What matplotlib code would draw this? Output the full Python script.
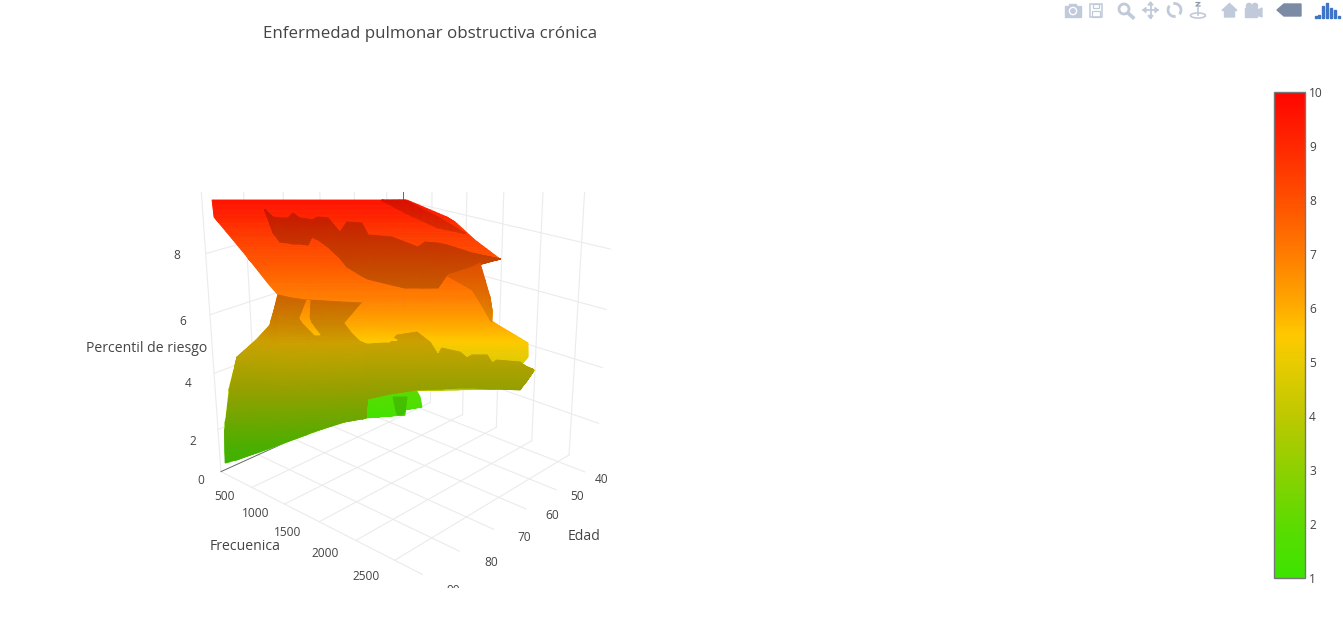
import numpy as np
import matplotlib
matplotlib.use('Agg')
import matplotlib.pyplot as plt
from matplotlib.colors import LinearSegmentedColormap, Normalize
from matplotlib.transforms import Bbox
from matplotlib.cm import ScalarMappable
from matplotlib.patches import Rectangle, Polygon, Circle, Arc

plt.rcParams['font.family']=['Open Sans','DejaVu Sans']

W,H=1343,635

# surface pieces: two edges each, [edge a, edge b]
base_edad=[[87.5,87.3,86.8,86.1,85.8,85.8,85.8,85.7,85.6,85.3,85.6,85.9,86.1,86.2,86.9,88.1,90.4,90.7,91.0,91.2,91.9,91.8,92.4,92.7,93.4,94.0,94.4],[62.9,57.7,56.6,55.4,54.1,54.0,57.2,58.3,58.8,59.2,59.0,58.5,58.4,57.3,54.7,52.9,53.0,53.8,52.2,53.9,54.0,73.9,74.0,77.7,83.8,89.4,94.3]]
base_frec=[[-10,-10,15,185,377,389,434,538,642,766,768,733,691,678,597,525,413,398,393,387,353,345,307,305,337,363,394],[1385,1668,1724,1927,2174,2186,2056,2092,2155,2247,2276,2285,2260,2314,2424,2517,2529,2490,2590,2498,2497,1360,1347,1153,880,624,398]]
base_z=[[9.6,9.06,8.9,8.41,7.95,7.91,7.83,7.58,7.33,7.03,6.98,6.55,6.2,6.03,5.67,5.4,4.95,4.72,4.51,4.43,3.89,3.81,2.87,2.71,2.26,1.83,1.5],[9.6,9.06,8.9,8.41,7.95,7.91,7.83,7.58,7.33,7.03,6.98,6.55,6.2,6.03,5.67,5.4,4.95,4.72,4.51,4.43,3.89,3.81,2.87,2.71,2.26,1.83,1.5]]
green_edad=[[56.5,56.3,57.7,58.3,59.1,59.8],[49.1,48.4,49.5,52.6,53.5,59.6]]
green_frec=[[463,453,518,549,591,621],[885,901,980,870,912,630]]
green_z=[[2.0,1.75,1.5,1.45,1.35,1.3],[2.0,1.75,1.5,1.45,1.35,1.3]]
d5_edad=[[51.9,54.6,55.0],[49.8,53.3,54.4]]
d5_frec=[[654,831,877],[770,905,909]]
d5_z=[[1.7,1.45,1.4],[1.7,1.45,1.4]]
d1_edad=[[93.0,91.7,90.4,87.7,86.2,85.3,83.8,82.2,81.7,77.3,75.0,74.0,73.6,73.5,70.6,69.7,67.3,65.4,64.5,64.0,61.7,60.9,60.1,58.2,57.6,57.0,54.1,53.2,52.5],[94.5,93.8,92.8,90.0,87.9,86.7,84.7,82.6,82.0,76.9,74.5,74.4,74.0,73.9,70.9,70.1,67.4,65.8,64.8,64.3,61.9,61.0,60.3,58.4,57.8,57.1,54.1,53.4,52.5]]
d1_frec=[[320,362,413,548,678,766,875,983,1011,1255,1370,1322,1344,1351,1518,1571,1722,1806,1871,1898,2031,2087,2118,2227,2269,2305,2476,2527,2575],[387,420,470,596,689,742,840,933,959,1195,1315,1322,1347,1362,1531,1585,1731,1828,1888,1917,2047,2099,2135,2248,2284,2321,2488,2542,2577]]
d1_z=[[2.5,3.96,4.95,5.5,6.03,7.03,6.95,6.9,6.9,6.83,6.79,5.4,5.4,5.4,5.4,5.67,5.78,5.43,5.01,5.24,5.11,4.92,5.01,5.01,4.75,4.85,4.79,4.62,4.56],[1.5,1.56,1.59,1.8,1.95,2.04,2.2,2.35,2.41,2.74,2.83,2.83,2.87,3.53,3.71,3.75,3.85,3.87,3.89,3.89,3.92,3.92,3.92,3.89,3.89,3.89,3.85,4.17,4.46]]
d2_edad=[[80.8,79.8,78.8,77.8,77.2,76.3,75.3,74.8,74.1,72.7,71.9,70.4,68.4,68.5,65.7,64.5,63.3,61.9,60.5,59.5,57.0,54.1],[80.8,80.4,80.4,79.5,78.9,78.0,77.2,75.9,75.3,74.7,74.2,74.2,73.1,72.7,70.2,68.8,67.1,66.3,64.6,62.4,58.4,54.1]]
d2_frec=[[359,415,458,515,555,602,660,690,739,804,923,945,1047,1136,1318,1433,1546,1577,1678,1752,1962,2189],[359,441,534,600,637,688,754,742,797,900,1035,1131,1275,1335,1531,1633,1726,1775,1868,1880,2023,2189]]
d2_z=[[9.28,9.06,9.02,9.02,9.18,9.02,8.99,8.96,9.06,9.02,8.62,8.9,8.86,8.54,8.49,8.36,8.23,8.36,8.34,8.29,8.08,7.93],[9.28,8.59,8.36,8.34,8.31,8.31,8.29,8.49,8.41,8.23,7.95,7.73,7.5,7.43,7.28,7.2,7.2,7.2,7.2,7.53,7.73,7.93]]
d3_edad=[[66.1,63.1,58.8,56.0],[66.0,62.9,59.0,56.1]]
d3_frec=[[1206,1371,1603,1825],[1203,1360,1610,1829]]
d3_z=[[9.6,9.6,9.06,8.59],[9.58,9.18,8.72,8.58]]
d4_edad=[[62.2,58.4,57.0,59.0,58.5],[62.3,60.5,60.4,58.4,58.1]]
d4_frec=[[1887,2023,2063,2276,2285],[1888,2117,2211,2260,2272]]
d4_z=[[7.53,7.73,7.83,6.98,6.55],[7.5,7.15,6.83,6.2,6.13]]
fin_edad=[[82.1,82.5,81.9,80.2],[81.7,81.3,80.9,79.5]]
fin_frec=[[990,903,912,979],[1011,967,969,1015]]
fin_z=[[6.9,6.27,6.09,5.67],[6.9,6.27,6.09,5.67]]
wedge_edad=[[75.0,76.6,75.6,74.4,73.5],[74.9,73.4,71.6,69.7,73.1]]
wedge_frec=[[1370,1213,1253,1301,1351],[1377,1393,1477,1569,1373]]
wedge_z=[[6.79,6.09,5.78,5.5,5.4],[6.79,6.09,5.78,5.5,5.4]]

# axis ticks
edad_ticks=[40,50,60,70,80,90]
frec_ticks=[500,1000,1500,2000,2500]
z_ticks=[2,4,6,8]
colorbar_ticks=[1,2,3,4,5,6,7,8,9,10]

# colour scale
bar_vals=[1,2,3,4,5,5.5,6,7,8,9,10]
bar_cols=['#3ce400','#5ddb00','#8ed000','#bec800','#e9cb00','#ffc800','#ffac00','#ff7c00','#ff5000','#ff2800','#ff0500']
cmap=LinearSegmentedColormap.from_list('riesgo',[((b-1)/9,c) for b,c in zip(bar_vals,bar_cols)])
norm=Normalize(1,10)

fig=plt.figure(figsize=(W/100,H/100),dpi=100)
ax=fig.add_axes([0.12091958,0.08361417,0.35801564,0.75718898],projection='3d',computed_zorder=False)
ax.set_axis_off()
E0,E1,F0,F1,Z0,Z1=36,90,0,2840,0.45,10
ax.set_xlim(E0,E1);ax.set_ylim(F0,F1);ax.set_zlim(Z0,Z1)
ax.view_init(21.61,42.24,0)
ax.set_proj_type('persp',focal_length=0.43)
ax.set_box_aspect((0.978,1,1.07))
M=ax.get_proj()
clip=Bbox([[0,H-588],[W,H-192]])

def refine(v,na,nb):
    # finer mesh between read values, only so the colour runs smooth like the webgl original
    v=np.array(v,float).T
    t=np.linspace(0,len(v)-1,(len(v)-1)*na+1)
    i=np.arange(len(v))
    a=np.interp(t,i,v[:,0]);b=np.interp(t,i,v[:,1])
    s=np.linspace(0,1,nb+1)[:,None]
    return (1-s)*a+s*b

def piece(e,f,z,light,zo,na,nb):
    X=refine(e,na,nb);Y=refine(f,na,nb);Z=refine(z,na,nb)
    zm=(Z[:-1,:-1]+Z[1:,:-1]+Z[:-1,1:]+Z[1:,1:])/4
    fc=cmap(norm(zm));fc[...,:3]*=light
    s=ax.plot_surface(X,Y,Z,facecolors=fc,shade=False,rstride=1,cstride=1,linewidth=.6,zorder=zo)
    s.set_clip_box(clip)

piece(base_edad,base_frec,base_z,1.0,5,10,1)
piece(green_edad,green_frec,green_z,1.0,6,6,1)
piece(d5_edad,d5_frec,d5_z,.86,7,6,1)
piece(d1_edad,d1_frec,d1_z,.8,8,8,50)
piece(d2_edad,d2_frec,d2_z,.78,9,6,30)
piece(d3_edad,d3_frec,d3_z,.85,10,4,6)
piece(d4_edad,d4_frec,d4_z,.88,11,4,12)
piece(fin_edad,fin_frec,fin_z,1.0,12,8,1)
piece(wedge_edad,wedge_frec,wedge_z,1.0,13,8,1)

def ln(x,y,z,c='#ebebeb',lw=.8):
    l,=ax.plot(x,y,z,color=c,lw=lw,zorder=1);l.set_clip_box(clip)
for e in edad_ticks:
    ln([e,e],[F0,F1],[Z0,Z0]);ln([e,e],[F0,F0],[Z0,Z1])
for f in frec_ticks:
    ln([E0,E1],[f,f],[Z0,Z0]);ln([E0,E0],[f,f],[Z0,Z1])
for z in z_ticks:
    ln([E0,E0],[F0,F1],[z,z]);ln([E0,E1],[F0,F0],[z,z])
ln([E1,E0],[F0,F0],[Z0,Z0],'#666666',.7);ln([E0,E0],[70,70],[Z0,Z1],'#666666',.7)

def tick(lbl,x,y,z,dx,dy):
    h=M@np.array([x,y,z,1])
    a=ax.annotate(lbl,(h[0]/h[3],h[1]/h[3]),xytext=(dx,dy),textcoords='offset pixels',ha='center',va='center',fontsize=8.6,color='#444444',annotation_clip=False)
    a.set_clip_on(True);a.set_clip_box(clip)
for e,dx,dy in zip(edad_ticks,[17,21,26,30,32,31],[-8,-7,-7,-8,-11,-16]):
    tick(str(e),e,F1,Z0,dx,dy)
for f,dx,dy in zip(frec_ticks,[-27,-29,-32,-31,-29],[-9,-9,-11,-13,-16]):
    tick(str(f),E1,f,Z0,dx,dy)
for z,dx,dy in zip(z_ticks,[-25,-26,-27,-29],[-12,-10,-7,-2]):
    tick(str(z),E1,F0,z,dx,dy)
tick('0',E1,F0,Z0,-20,-9)

fig.text(430.5/W,1-33.5/H,'Enfermedad pulmonar obstructiva crónica',ha='center',va='center',fontsize=12.2,color='#444444')
fig.text(147/W,1-349/H,'Percentil de riesgo',ha='center',va='center',fontsize=10.1,color='#444444')
fig.text(245/W,1-546.5/H,'Frecuenica',ha='center',va='center',fontsize=10.1,color='#444444')
fig.text(584/W,1-536.5/H,'Edad',ha='center',va='center',fontsize=10.1,color='#444444')

cax=fig.add_axes([1274/W,1-578/H,31/W,486/H])
cb=fig.colorbar(ScalarMappable(norm,cmap),cax=cax,ticks=colorbar_ticks)
cb.ax.tick_params(length=0,pad=3,labelsize=8.6,labelcolor='#444444')
cb.outline.set_edgecolor('#777777');cb.outline.set_linewidth(1)

# toolbar icons, in pixels
tb=fig.add_axes([0,0,1,1],zorder=-1)
tb.set_xlim(0,W);tb.set_ylim(H,0);tb.axis('off')
ic='#c0cada'
tb.add_patch(Rectangle((1065,6),16,11,color=ic))
tb.add_patch(Rectangle((1069,4),7,3,color=ic))
tb.add_patch(Circle((1073,11),3.6,color='white'))
tb.add_patch(Circle((1073,11),2.2,color=ic))
tb.add_patch(Rectangle((1090,4),11.5,13,fill=False,ec=ic,lw=1.1))
tb.add_patch(Rectangle((1092.5,4),6,4,fill=False,ec=ic,lw=.9))
tb.add_patch(Rectangle((1092,11),7.5,6,fill=False,ec=ic,lw=.9))
tb.add_patch(Circle((1124,9),5,fill=False,ec=ic,lw=2))
tb.plot([1128,1133],[13,17.5],color=ic,lw=2.6)
tb.plot([1143,1158],[10,10],color=ic,lw=1.3);tb.plot([1150.5,1150.5],[3,18],color=ic,lw=1.3)
for pts in [[(1143,10),(1146,7.5),(1146,12.5)],[(1158,10),(1155,7.5),(1155,12.5)],[(1150.5,2),(1148,5),(1153,5)],[(1150.5,18.5),(1148,15.5),(1153,15.5)]]:
    tb.add_patch(Polygon(pts,color=ic))
tb.add_patch(Arc((1174.5,10),13,13,theta1=200,theta2=340,color=ic,lw=2,angle=60))
tb.add_patch(Arc((1174.5,10),13,13,theta1=20,theta2=160,color=ic,lw=2,angle=60))
tb.plot([1198,1198],[8,15],color=ic,lw=1.2)
tb.plot([1196,1200,1196,1200],[2.5,2.5,6,6],color='#8d9ab0',lw=.9)
tb.add_patch(Arc((1198,15.5),15,5,theta1=0,theta2=360,color=ic,lw=1.2))
tb.add_patch(Polygon([(1222,10.5),(1229.5,3.5),(1237,10.5),(1234.5,10.5),(1234.5,17),(1224.5,17),(1224.5,10.5)],color=ic))
tb.add_patch(Rectangle((1245,8),12,9,color=ic))
tb.add_patch(Polygon([(1257,10.5),(1262,8),(1262,17),(1257,15)],color=ic))
tb.add_patch(Circle((1249,6),2.6,color=ic));tb.add_patch(Circle((1255,6),2.6,color=ic))
tb.add_patch(Polygon([(1277,10),(1284,4),(1301,4),(1301,16),(1284,16)],color='#7b8ba6'))
for x,h in zip([1314.5,1318,1322,1326,1330,1334,1337.5],[1.5,3,12,15,10,8,2]):
    tb.add_patch(Rectangle((x,17.5-h),2,h,color='#3f74c6'))

fig.savefig('out.png',dpi=100)
